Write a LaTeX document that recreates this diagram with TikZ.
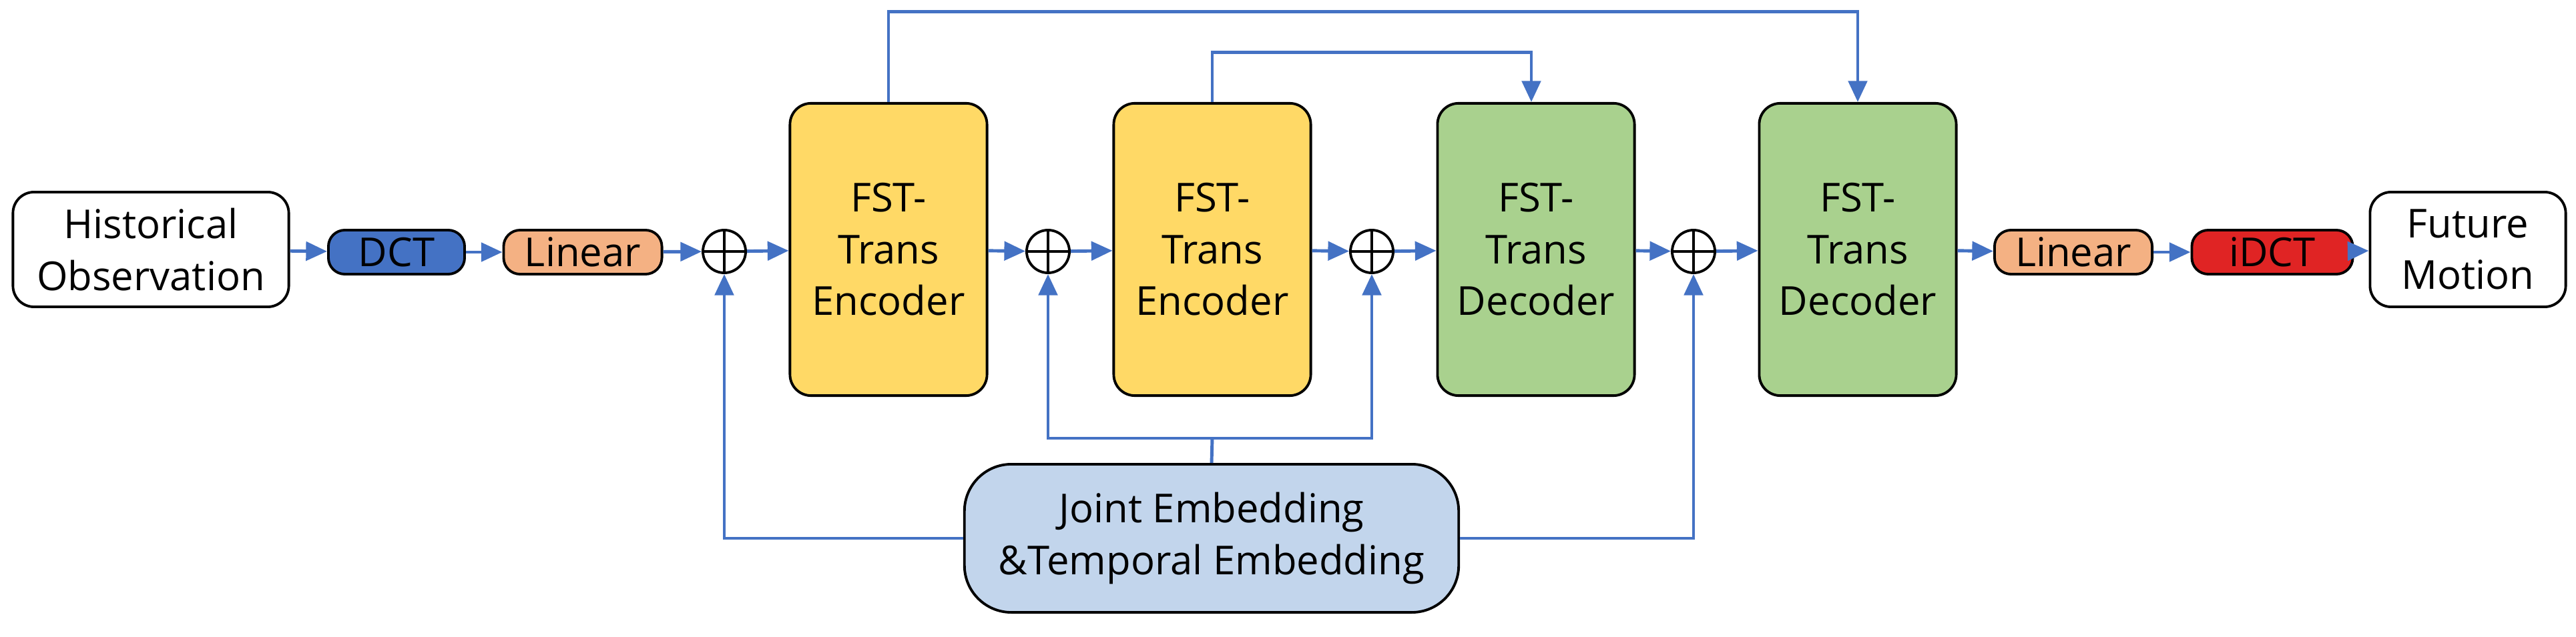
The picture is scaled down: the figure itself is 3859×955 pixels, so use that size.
\documentclass[tikz,border=0pt]{standalone}
\usepackage{fontspec}
\setmainfont{Open Sans}
\usetikzlibrary{arrows.meta,positioning}
\definecolor{encY}{HTML}{FFD966}
\definecolor{decG}{HTML}{A9D18E}
\definecolor{embB}{HTML}{C2D5EC}
\definecolor{dctB}{HTML}{4472C4}
\definecolor{linO}{HTML}{F4B183}
\definecolor{idctR}{HTML}{E02424}
\definecolor{arrB}{HTML}{4472C4}
\begin{document}
\begin{tikzpicture}[x=0.01cm, y=-0.01cm, font=\fontsize{17}{22}\selectfont,
    box/.style = {draw, line width=1.1pt, rounded corners=9pt, align=center, inner sep=0pt},
    io/.style = {box, fill=white, minimum width=4.13cm, minimum height=1.72cm},
    small/.style = {box, rounded corners=7pt, minimum width=2.2cm, minimum height=0.66cm},
    trans/.style = {box, minimum width=2.95cm, minimum height=4.38cm},
    plus/.style = {draw, circle, line width=1.1pt, minimum size=0.64cm, inner sep=0pt},
    conn/.style = {arrB, line width=1.4pt, -{Triangle[length=9pt,width=8pt]}},
    line/.style = {arrB, line width=1.4pt}]
    \useasboundingbox (0,0) rectangle (3859,955);
    % main chain
    \node[io] (hist) at (226,374) {Historical\\Observation};
    \node[small, fill=dctB, minimum width=2.04cm] (dct) at (594,378) {DCT};
    \node[small, fill=linO, minimum width=2.37cm] (lin1) at (873,378) {Linear};
    \node[plus] (p1) at (1085,377) {};
    \node[trans, fill=encY] (enc1) at (1331,374) {FST-\\Trans\\Encoder};
    \node[plus] (p2) at (1570,377) {};
    \node[trans, fill=encY] (enc2) at (1816,374) {FST-\\Trans\\Encoder};
    \node[plus] (p3) at (2055,377) {};
    \node[trans, fill=decG] (dec1) at (2301,374) {FST-\\Trans\\Decoder};
    \node[plus] (p4) at (2537,377) {};
    \node[trans, fill=decG] (dec2) at (2783,374) {FST-\\Trans\\Decoder};
    \node[small, fill=linO, minimum width=2.36cm] (lin2) at (3106,378) {Linear};
    \node[small, fill=idctR, minimum width=2.41cm] (idct) at (3404,378) {iDCT};
    \node[io, minimum width=2.93cm] (fut) at (3697,374) {Future\\Motion};
    \node[box, fill=embB, rounded corners=20pt, minimum width=7.4cm, minimum height=2.22cm] (emb) at (1815,807) {Joint Embedding\\\&Temporal Embedding};
    \foreach \a/\b in {hist/dct, dct/lin1, lin1/p1, p1/enc1, enc1/p2, p2/enc2, enc2/p3, p3/dec1, dec1/p4, p4/dec2, dec2/lin2, lin2/idct, idct/fut}
        \draw[conn] (\a) -- (\b);
    \foreach \p in {p1,p2,p3,p4}
        \draw[line width=1.1pt] (\p.north) -- (\p.south) (\p.west) -- (\p.east);
    % skip connections
    \draw[conn] (enc1.north) -- ++(0,-135) -| (dec2.north);
    \draw[conn] (enc2.north) -- ++(0,-74) -| ([xshift=-0.07cm]dec1.north);
    % embedding feeds
    \coordinate (split) at (1816,657);
    \draw[line] (emb.north) -- (split);
    \draw[conn] (split) -| (p2.south);
    \draw[conn] (split) -| (p3.south);
    \draw[conn] (emb.west) -| (p1.south);
    \draw[conn] (emb.east) -| (p4.south);
\end{tikzpicture}
\end{document}
